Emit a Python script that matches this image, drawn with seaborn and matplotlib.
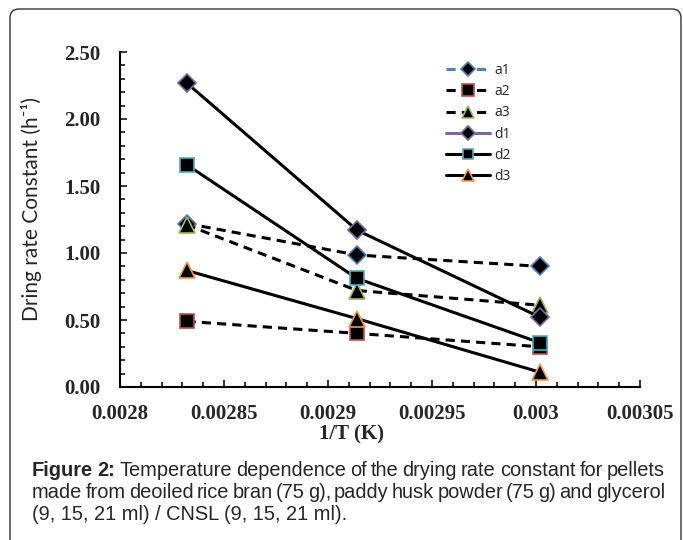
#!/usr/bin/env python3

import numpy as np
import pandas as pd
import matplotlib.pyplot as plt
import seaborn as sns
from matplotlib.patches import FancyBboxPatch
from matplotlib.ticker import MultipleLocator, FormatStrFormatter
from matplotlib.transforms import IdentityTransform

# 1/T values for 80, 70 and 60 C
inv_T = [0.002832, 0.002914, 0.003002]

# drying rate constants (h^-1) per pellet recipe
a1 = [1.22, 0.985, 0.90]
a2 = [0.49, 0.40, 0.30]
a3 = [1.21, 0.72, 0.61]
d1 = [2.27, 1.17, 0.52]
d2 = [1.66, 0.81, 0.33]
d3 = [0.87, 0.51, 0.11]

series_names = ["a1", "a2", "a3", "d1", "d2", "d3"]
series_vals = [a1, a2, a3, d1, d2, d3]

caption_lines = [
    "Temperature dependence of the drying rate constant for pellets",
    "made from deoiled rice bran (75 g), paddy husk powder (75 g) and glycerol",
    "(9, 15, 21 ml) / CNSL (9, 15, 21 ml).",
]

# marker, edge colour, line style, marker size
styles = {
    "a1": ("D", "#4F81BD", (0, (3, 2)), 9),
    "a2": ("s", "#C0504D", (0, (3, 2)), 10.5),
    "a3": ("^", "#9BBB59", (0, (3, 2)), 11),
    "d1": ("D", "#8064A2", "-", 9.5),
    "d2": ("s", "#4BACC6", "-", 9.5),
    "d3": ("^", "#F79646", "-", 11),
}

sns.set_style("white")
W, H = 683, 540
fig = plt.figure(figsize=(W / 100, H / 100), dpi=100)
ax = fig.add_axes([120 / W, 1 - 387 / H, 520 / W, 335 / H])

for name, vals in zip(series_names, series_vals):
    mk, ec, ls, ms = styles[name]
    df = pd.DataFrame({"x": inv_T, "y": vals})
    sns.lineplot(data=df, x="x", y="y", ax=ax, color="black", linestyle=ls,
                 linewidth=2.2, marker=mk, markersize=ms,
                 markerfacecolor="black", markeredgecolor=ec,
                 markeredgewidth=1.2, label=name, sort=False)

ax.set_xlim(0.0028, 0.00305)
ax.set_ylim(0, 2.5)
ax.xaxis.set_minor_locator(MultipleLocator(0.00001))
ax.yaxis.set_major_locator(MultipleLocator(0.5))
ax.yaxis.set_minor_locator(MultipleLocator(0.1))
ax.yaxis.set_major_formatter(FormatStrFormatter("%.2f"))
ax.set_xticks([0.0028, 0.00285, 0.0029, 0.00295, 0.003, 0.00305])
ax.set_xticklabels(["0.0028", "0.00285", "0.0029", "0.00295", "0.003", "0.00305"])

for s in ["top", "right"]:
    ax.spines[s].set_visible(False)
for s in ["left", "bottom"]:
    ax.spines[s].set_color("black")
    ax.spines[s].set_linewidth(1.5)

ax.tick_params(which="both", direction="in", color="black", width=1.1)
ax.tick_params(which="major", length=5)
ax.tick_params(which="minor", length=3.5)
ax.tick_params(axis="y", which="both", left=True, pad=14)
ax.tick_params(axis="x", which="both", bottom=True, pad=12)
for lab in ax.get_xticklabels() + ax.get_yticklabels():
    lab.set_fontfamily("Liberation Serif")
    lab.set_fontweight("bold")
    lab.set_fontsize(15)

ax.set_xlabel("1/T (K)", fontfamily="Liberation Serif", fontweight="bold", fontsize=15)
ax.xaxis.set_label_coords(0.446, -0.112)
ax.set_ylabel("Dring rate Constant (h\u207b\u00b9)", fontfamily="Lato", fontsize=15)
ax.yaxis.set_label_coords(-0.15, 0.53)

leg = ax.legend(loc="upper left", bbox_to_anchor=(446 / W, 1 - 63 / H),
                bbox_transform=fig.transFigure, frameon=False, borderpad=0,
                borderaxespad=0, handlelength=3.2, handletextpad=0.3,
                labelspacing=0.45, markerscale=0.8,
                prop={"family": "Open Sans", "size": 10})
leg.get_lines()[0].set_color("#4F81BD")
leg.get_lines()[3].set_color("#8064A2")

# outer rounded frame
frame = FancyBboxPatch((10, -30), 671, H - 9 + 30,
                       boxstyle="round,pad=0,rounding_size=9",
                       transform=IdentityTransform(), facecolor="none",
                       edgecolor="#333333", linewidth=1.0)
fig.add_artist(frame)

# caption, justified like the journal layout
renderer = fig.canvas.get_renderer()
cap_size = 14.4
x_left, x_right = 32, 665
base_y = [470, 492, 514]


def put_words(words, y):
    texts = []
    widths = []
    for w, bold in words:
        t = fig.text(0, 0, w, fontfamily="Liberation Sans", fontsize=cap_size,
                     fontweight="bold" if bold else "normal", va="center")
        texts.append(t)
        widths.append(t.get_window_extent(renderer).width)
    gap = (x_right - x_left - sum(widths)) / (len(words) - 1)
    x = x_left
    for t, w in zip(texts, widths):
        t.set_position((x / W, 1 - y / H))
        x += w + gap


line1 = [("Figure", True), ("2:", True)] + [(w, False) for w in caption_lines[0].split()]
line2 = [(w, False) for w in caption_lines[1].split()]
put_words(line1, base_y[0])
put_words(line2, base_y[1])
fig.text(x_left / W, 1 - base_y[2] / H, caption_lines[2], fontfamily="Liberation Sans",
         fontsize=cap_size, va="center")

plt.savefig("out.png", dpi=100)
plt.close("all")
